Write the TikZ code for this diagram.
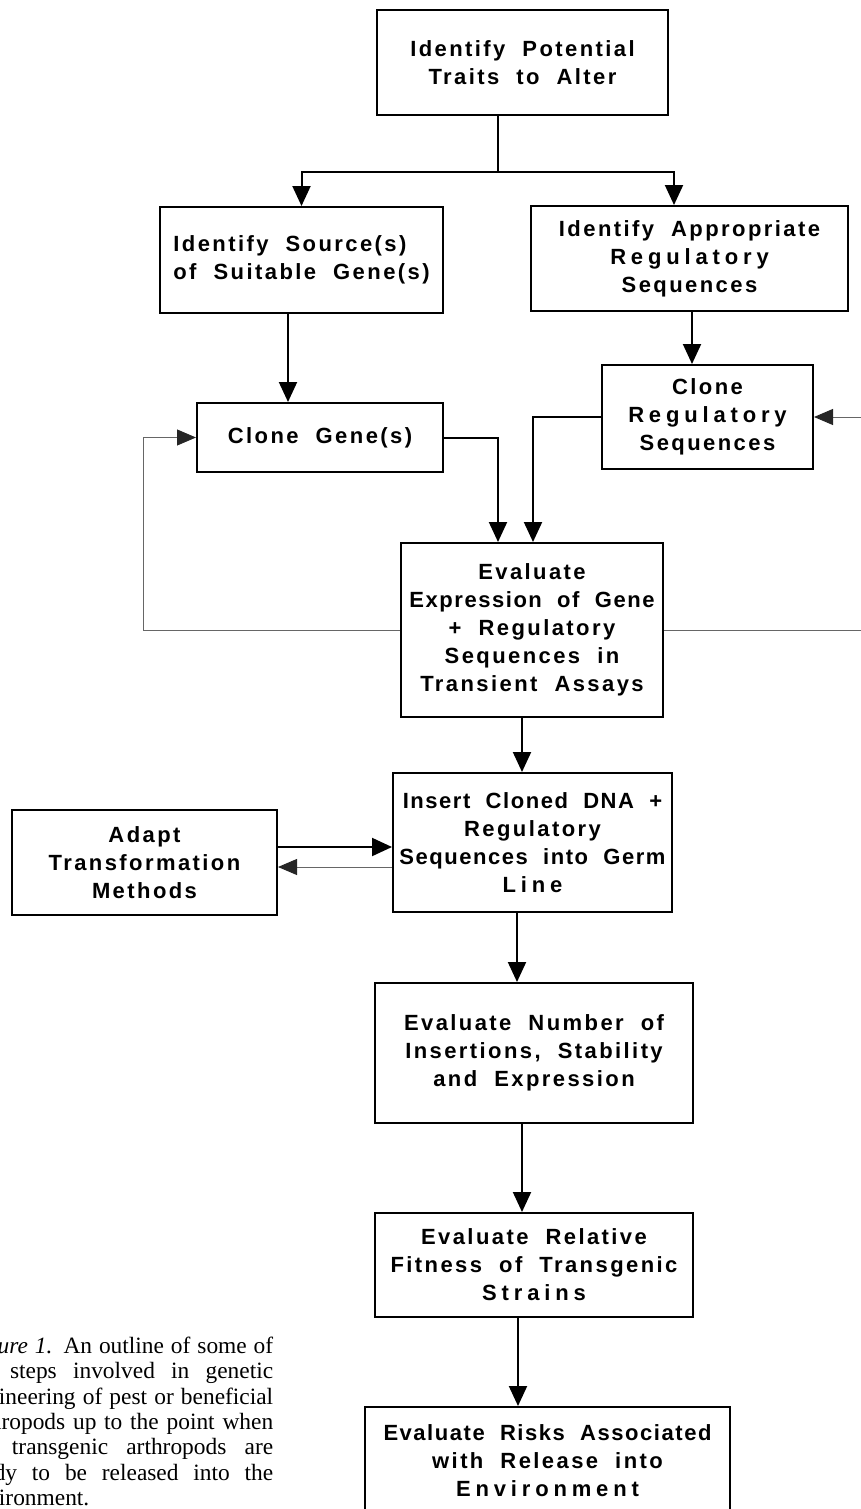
\documentclass[tikz,border=0pt]{standalone}
\usepackage{fontspec}
\usepackage{tikz}
\usetikzlibrary{arrows.meta}
\newfontfamily\boxfont{Liberation Sans}[LetterSpace=11,WordSpace=2]
\newfontfamily\capfont{Liberation Serif}
\newcommand{\wide}[1]{{\addfontfeature{LetterSpace=22}#1}}
\newcommand{\tight}[1]{{\addfontfeature{LetterSpace=7}#1}}
\newcommand{\capline}[1]{\makebox[308pt][s]{#1}}

\begin{document}
\begin{tikzpicture}[x=1pt,y=-1pt,
  stepbox/.style={draw,line width=2pt,inner sep=2pt,align=center,
    font=\boxfont\bfseries\fontsize{22}{28}\selectfont},
  flow/.style={line width=2pt,-{Triangle[width=18pt,length=20pt]}},
  back/.style={line width=0.9pt,black!60},
  backtip/.style={-{Triangle[width=16pt,length=19pt,color=black!85]}}]
\useasboundingbox (0,0) rectangle (861,1509);

%boites du haut
\node[stepbox,minimum width=291pt,minimum height=105pt] (T) at (522.5,62.5) {Identify Potential\\Traits to Alter};
\node[stepbox,minimum width=283pt,minimum height=106pt,align=left] (S) at (301.5,260) {Identify Source(s)\\of Suitable Gene(s)};
\node[stepbox,minimum width=317pt,minimum height=105pt] (A) at (689.5,258.5) {Identify Appropriate\\\wide{Regulatory}\\Sequences};
\node[stepbox,minimum width=246pt,minimum height=69pt] (G) at (320,437.5) {Clone Gene(s)};
\node[stepbox,minimum width=211pt,minimum height=104pt] (R) at (707.5,417) {Clone\\\wide{Regulatory}\\Sequences};

%boites du milieu
\node[stepbox,minimum width=262pt,minimum height=174pt] (E) at (532,630) {Evaluate\\\tight{Expression of Gene}\\+ Regulatory\\Sequences in\\Transient Assays};
\node[stepbox,minimum width=279pt,minimum height=139pt] (I) at (532.5,842.5) {\tight{Insert Cloned DNA +}\\Regulatory\\\tight{Sequences into Germ}\\\wide{Line}};
\node[stepbox,minimum width=265pt,minimum height=105pt] (M) at (144.5,862.5) {Adapt\\Transformation\\Methods};

%boites du bas
\node[stepbox,minimum width=318pt,minimum height=140pt] (N) at (534,1053) {Evaluate Number of\\Insertions, Stability\\and Expression};
\node[stepbox,minimum width=318pt,minimum height=104pt] (F) at (534,1265) {Evaluate Relative\\Fitness of Transgenic\\\wide{Strains}};
\node[stepbox,minimum width=365pt,minimum height=108pt] (K) at (547.5,1461) {\tight{Evaluate Risks Associated}\\with Release into\\\wide{Environment}};

%legende
\node[anchor=north west,inner sep=0pt,align=left,font=\capfont\fontsize{23.4}{25.3}\selectfont] (C) at (-35,1337)
  {\capline{\textit{Figure 1.} An outline of some of}\\
   \capline{the steps involved in genetic}\\
   \capline{engineering of pest or beneficial}\\
   \capline{arthropods up to the point when}\\
   \capline{the transgenic arthropods are}\\
   \capline{ready to be released into the}\\
   environment.};

%fleches
\coordinate (j) at (498,172);
\draw[line width=2pt] ([xshift=-24.5pt]T.south) -- (j);
\draw[flow] (j) -| (S.north);
\draw[flow] (j) -| ([xshift=-15.5pt]A.north);
\draw[flow] ([xshift=-13.5pt]S.south) -- ([xshift=-32pt]G.north);
\draw[flow] ([xshift=2.5pt]A.south) -- ([xshift=-15.5pt]R.north);
\draw[flow] (G.east) -| ([xshift=-34pt]E.north);
\draw[flow] (R.west) -| ([xshift=1pt]E.north);
\draw[flow] ([xshift=-10pt]E.south) -- ([xshift=-10.5pt]I.north);
\draw[flow] ([yshift=15.5pt]M.east) -- ([yshift=-4.5pt]I.west);
\draw[back,backtip] ([yshift=-24.5pt]I.west) -- ([yshift=-4.5pt]M.east);
\draw[flow] ([xshift=-15.5pt]I.south) -- ([xshift=-17pt]N.north);
\draw[flow] ([xshift=-12pt]N.south) -- ([xshift=-12pt]F.north);
\draw[flow] ([xshift=-16pt]F.south) -- ([xshift=-29.5pt]K.north);

%retours
\coordinate (lc) at (143,437.5);
\coordinate (ro) at (861,630);
\coordinate (ri) at (861,417);
\draw[back,backtip] (E.west) -| (lc) -- (G.west);
\draw[back] (E.east) -- (ro);
\draw[back,backtip] (ri) -- (R.east);
\end{tikzpicture}
\end{document}
